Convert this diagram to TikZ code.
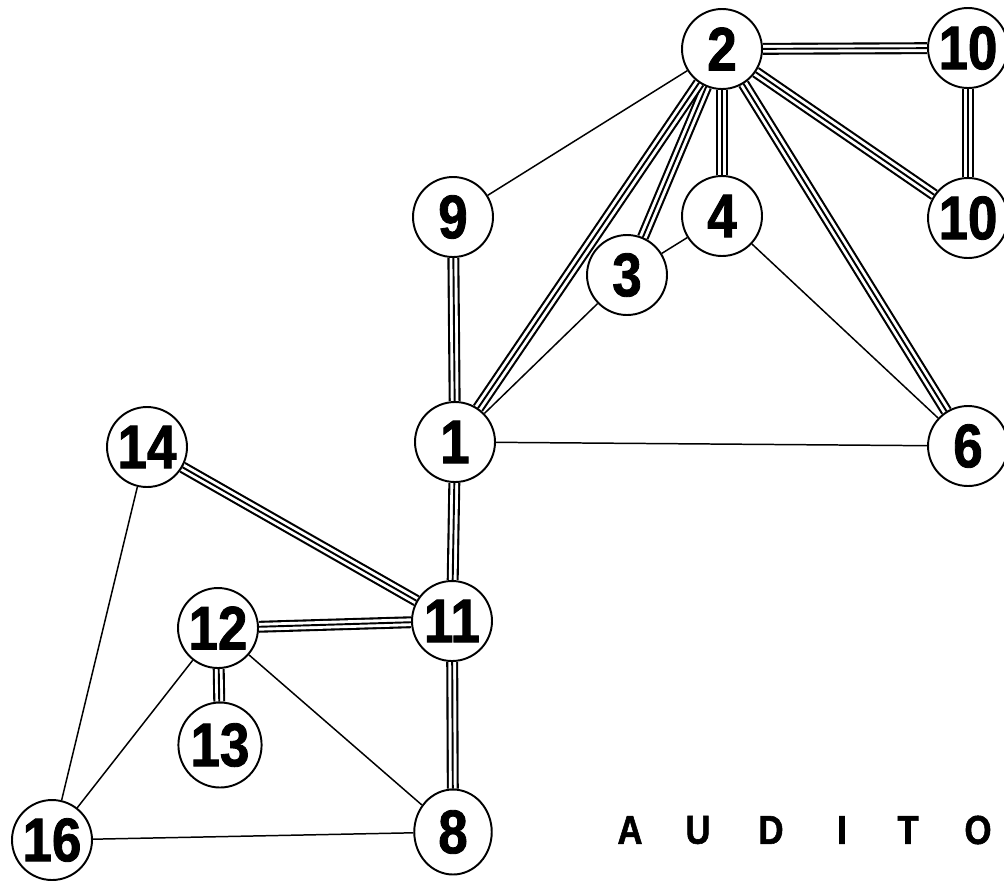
\documentclass[tikz,border=0pt]{standalone}
\usepackage{fontspec}
\newfontfamily\labelfont{Liberation Sans}[FakeStretch=0.86,
    BoldFeatures={FakeBold=1.4}]
\usetikzlibrary{shapes.geometric,backgrounds}

\begin{document}
\begin{tikzpicture}[
    x = 0.02cm,
    y = -0.02cm,
    room/.style = {circle, draw, line width=1.1pt, fill=white,
    minimum size=1.6cm, inner sep=0pt,
    font=\labelfont\bfseries\fontsize{35}{35}\selectfont},
    oval/.style = {room, ellipse, minimum width=1.42cm, minimum height=1.7cm},
    link/.style = {line width=0.85pt},
    strong/.style = {line width=6.8pt,
    postaction={draw, white, line width=4.4pt},
    postaction={draw, black, line width=1.1pt}},
    letter/.style = {font=\labelfont\bfseries\fontsize{23}{23}\selectfont,
    inner sep=0pt},
]

\useasboundingbox (0,0) rectangle (1004,880);

\node[room] (n2) at (722,49){2};
    \node[room] (n10a) at (968,48){10};
    \node[room] (n10b) at (968,218){10};
    \node[room] (n9) at (453,217){9};
    \node[room] (n4) at (722,216){4};
    \node[room] (n3) at (627,275){3};
    \node[room] (n1) at (455,442){1};
    \node[room] (n6) at (968,446){6};
    \node[room] (n14) at (147,447){14};
    \node[room] (n11) at (452,621){11};
    \node[room] (n12) at (218,628){12};
    \node[oval] (n13) at (220,745){13};
    \node[room] (n16) at (52,840){16};
    \node[oval, minimum width=1.55cm] (n8) at (453,832){8};

\foreach \ch/\xx [count=\i] in {A/630, U/698, D/771, I/842, T/908, O/978}
    \node[letter] (word_\i) at (\xx,830){\ch};

\begin{scope}[on background layer]
\draw [strong] (n2) -- (n10a);
\draw [strong] (n10a) -- (n10b);
\draw [strong] (n2) -- (n10b);
\draw [strong] (n2) -- (n4);
\draw [strong] (n2) -- (n3);
\draw [strong] (n2) -- (n1);
\draw [strong] (n2) -- (n6);
\draw [strong] (n9) -- (n1);
\draw [strong] (n1) -- (n11);
\draw [strong] (n14) -- (n11);
\draw [strong] (n12) -- (n11);
\draw [strong] (n12) -- (n13);
\draw [strong] (n11) -- (n8);

\draw [link] (n2) -- (n9);
\draw [link] (n3) -- (n4);
\draw [link] (n3) -- (n1);
\draw [link] (n4) -- (n6);
\draw [link] (n1) -- (n6);
\draw [link] (n14) -- (n16);
\draw [link] (n12) -- (n16);
\draw [link] (n12) -- (n8);
\draw [link] (n16) -- (n8);
\end{scope}

\end{tikzpicture}
\end{document}
